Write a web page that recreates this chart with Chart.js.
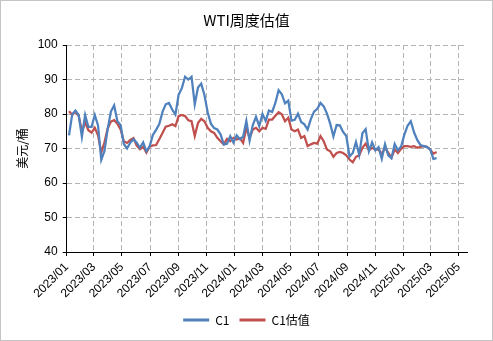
<!DOCTYPE html>
<html>
<head>
<meta charset="utf-8">
<title>WTI周度估值</title>
<script src="https://cdn.jsdelivr.net/npm/chart.js@4.4.1/dist/chart.umd.min.js"></script>
<style>
    html, body { margin: 0; padding: 0; background: #fff; }
    #wrap {
        position: relative;
        width: 493px;
        height: 341px;
        border: 1px solid #c4c4c4;
        box-sizing: border-box;
    }
    #chart { position: absolute; left: 0; top: 0; }
</style>
</head>
<body>
<div id="wrap"><canvas id="chart" width="491" height="339"></canvas></div>
<script>
// WTI 周度收盘 (C1) 与估值 (C1估值), 每周五一个点
const firstWeek = '2023/01/06';
const tickLabels = ['2023/01', '2023/03', '2023/05', '2023/07', '2023/09', '2023/11',
    '2024/01', '2024/03', '2024/05', '2024/07', '2024/09', '2024/11',
    '2025/01', '2025/03', '2025/05'];

const c1 = [
    73.8, 79.9, 81.0, 79.7, 73.4, 79.7, 76.3, 76.3, 79.7, 76.7,
    66.7, 69.3, 75.7, 80.7, 82.5, 77.9, 76.8, 71.3, 70.0, 71.7,
    72.7, 71.7, 70.2, 71.8, 69.2, 70.6, 73.9, 75.4, 77.1, 80.6,
    82.8, 83.2, 81.3, 79.8, 85.6, 87.5, 90.8, 90.0, 90.8, 82.8,
    87.7, 88.8, 85.5, 80.5, 77.2, 75.9, 75.5, 74.1, 71.2, 71.4,
    73.6, 71.7, 73.8, 72.7, 73.4, 78.0, 72.3, 76.8, 79.2, 76.5,
    80.0, 78.0, 81.0, 80.6, 83.2, 86.9, 85.7, 83.1, 83.9, 78.1,
    78.3, 80.1, 77.7, 77.0, 75.5, 78.5, 80.7, 81.5, 83.2, 82.2,
    80.1, 77.2, 73.5, 76.8, 76.7, 74.8, 73.6, 67.7, 68.7, 71.9,
    68.2, 74.4, 75.6, 69.2, 71.8, 69.5, 70.4, 67.0, 71.2, 68.0,
    67.2, 71.3, 69.5, 70.6, 74.0, 76.6, 77.9, 74.7, 72.5, 71.0,
    70.7, 70.4, 69.8, 67.0, 67.2
];

const c1Fair = [
    80.8, 79.8, 80.6, 79.5, 75.0, 77.6, 75.3, 74.6, 76.0, 73.8,
    68.8, 71.8, 75.8, 77.8, 78.2, 77.2, 75.5, 72.1, 71.6, 72.5,
    73.0, 70.8, 69.8, 70.5, 68.8, 70.5, 70.9, 71.0, 72.7, 74.5,
    76.3, 76.6, 77.0, 76.5, 79.4, 79.7, 79.4, 78.2, 77.9, 73.6,
    77.4, 78.6, 77.9, 76.0, 75.0, 74.5, 73.1, 72.1, 71.2, 72.8,
    72.1, 73.1, 72.6, 73.0, 71.6, 76.0, 73.1, 75.5, 76.0, 75.0,
    76.0, 75.7, 78.4, 78.4, 79.5, 80.5, 79.9, 77.9, 78.9, 75.5,
    75.0, 75.5, 73.1, 73.6, 70.7, 71.2, 71.6, 71.4, 73.6, 72.1,
    69.7, 69.2, 67.6, 68.7, 69.0, 68.7, 68.0, 66.8, 66.0, 67.6,
    68.0, 70.2, 71.4, 69.5, 70.2, 69.7, 69.7, 68.5, 70.2, 68.8,
    67.3, 69.7, 68.7, 69.9, 70.7, 70.7, 70.5, 70.7, 70.2, 70.5,
    70.7, 70.5, 69.7, 68.5, 69.0
];

// 日期 -> 距 2023/01/01 的天数
function dayOf(str) {
    const p = str.split('/').map(Number);
    return (Date.UTC(p[0], p[1] - 1, p[2] || 1) - Date.UTC(2023, 0, 1)) / 86400000;
}

const startDay = dayOf(firstWeek);
const tickDays = tickLabels.map(dayOf);
const toPoints = arr => arr.map((v, i) => ({ x: startDay + 7 * i, y: v }));

const font = 'Liberation Sans, Arial, sans-serif';
const cjk = '"Noto Sans CJK SC", sans-serif';

new Chart(document.getElementById('chart'), {
    type: 'line',
    data: {
        datasets: [{
            label: 'C1',
            data: toPoints(c1),
            borderColor: '#4F81BD',
            backgroundColor: '#4F81BD',
            borderWidth: 2.25,
            pointRadius: 0,
            tension: 0
        }, {
            label: 'C1估值',
            data: toPoints(c1Fair),
            borderColor: '#C0504D',
            backgroundColor: '#C0504D',
            borderWidth: 2.25,
            pointRadius: 0,
            tension: 0
        }]
    },
    options: {
        responsive: false,
        animation: false,
        devicePixelRatio: 1,
        layout: {
            padding: { left: 0, right: 0, top: 0, bottom: 4 }
        },
        plugins: {
            title: {
                display: true,
                text: 'WTI周度估值',
                color: '#000',
                font: { family: cjk, size: 15, weight: 'normal' },
                padding: { top: 10, bottom: 16 }
            },
            legend: {
                position: 'bottom',
                labels: {
                    color: '#000',
                    font: { family: cjk, size: 12 },
                    boxWidth: 26,
                    boxHeight: 3,
                    padding: 10,
                    generateLabels: chart => Chart.defaults.plugins.legend.labels.generateLabels(chart)
                        .map(l => Object.assign(l, { lineWidth: 0 }))
                }
            },
            tooltip: { enabled: false }
        },
        scales: {
            x: {
                type: 'linear',
                min: 0,
                max: 869,
                afterBuildTicks: scale => {
                    scale.ticks = tickDays.map(d => ({ value: d }));
                },
                afterFit: scale => { scale.height = 52; },
                ticks: {
                    autoSkip: false,
                    maxRotation: 45,
                    minRotation: 45,
                    padding: 4,
                    color: '#000',
                    font: { family: font, size: 12 },
                    callback: (value, index) => tickLabels[index]
                },
                grid: {
                    color: '#b4b4b4',
                    tickColor: '#000',
                    tickLength: 4,
                    tickBorderDash: []
                },
                border: { color: '#000', width: 1, dash: [5, 3] }
            },
            y: {
                min: 40,
                max: 100,
                afterFit: scale => { scale.width = 65.7; },
                ticks: {
                    stepSize: 10,
                    padding: 5,
                    color: '#000',
                    font: { family: font, size: 12 }
                },
                grid: {
                    color: '#b4b4b4',
                    tickColor: '#000',
                    tickLength: 4,
                    tickBorderDash: []
                },
                border: { color: '#000', width: 1, dash: [5, 3] },
                title: {
                    display: true,
                    text: '美元/桶',
                    color: '#000',
                    font: { family: cjk, size: 12 },
                    padding: { top: 14, bottom: 0 }
                }
            },
            // 右侧留白, 不画任何东西, 让图例在整幅宽度内居中
            yRight: {
                position: 'right',
                afterFit: scale => { scale.width = 25; },
                ticks: { display: false },
                grid: { display: false, drawTicks: false },
                border: { display: false }
            }
        }
    }
});
</script>
</body>
</html>
